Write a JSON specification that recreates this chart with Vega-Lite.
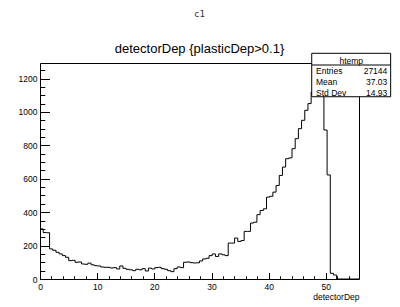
{
  "$schema": "https://vega.github.io/schema/vega-lite/v6.json",
  "width": 319,
  "height": 216,
  "autosize": {"type": "none"},
  "padding": {"left": 40, "top": 63, "right": 41, "bottom": 28},
  "background": "white",
  "title": {
    "text": "c1",
    "subtitle": "detectorDep {plasticDep>0.1}",
    "anchor": "middle",
    "frame": "group",
    "font": "DejaVu Sans Mono",
    "fontSize": 9,
    "fontWeight": "normal",
    "color": "#333333",
    "subtitleFont": "Liberation Sans",
    "subtitleFontSize": 13,
    "subtitleColor": "black",
    "subtitlePadding": 24,
    "offset": -3
  },
  "datasets": {
    "hist": [
      {"x": 0, "count": 300}, {"x": 0.558, "count": 278}, {"x": 1.116, "count": 277}, {"x": 1.674, "count": 180},
      {"x": 2.232, "count": 172}, {"x": 2.79, "count": 160}, {"x": 3.348, "count": 150}, {"x": 3.906, "count": 140},
      {"x": 4.464, "count": 130}, {"x": 5.022, "count": 110}, {"x": 5.58, "count": 112}, {"x": 6.138, "count": 100},
      {"x": 6.696, "count": 102}, {"x": 7.254, "count": 90}, {"x": 7.812, "count": 88}, {"x": 8.37, "count": 95},
      {"x": 8.928, "count": 85}, {"x": 9.486, "count": 80}, {"x": 10.044, "count": 78}, {"x": 10.602, "count": 72},
      {"x": 11.16, "count": 70}, {"x": 11.718, "count": 70}, {"x": 12.276, "count": 66}, {"x": 12.834, "count": 68},
      {"x": 13.392, "count": 60}, {"x": 13.95, "count": 78}, {"x": 14.508, "count": 64}, {"x": 15.066, "count": 58},
      {"x": 15.624, "count": 55}, {"x": 16.182, "count": 50}, {"x": 16.74, "count": 58}, {"x": 17.298, "count": 55},
      {"x": 17.856, "count": 62}, {"x": 18.414, "count": 48}, {"x": 18.972, "count": 65}, {"x": 19.53, "count": 60},
      {"x": 20.088, "count": 68}, {"x": 20.646, "count": 70}, {"x": 21.204, "count": 62}, {"x": 21.762, "count": 58},
      {"x": 22.32, "count": 50}, {"x": 22.878, "count": 44}, {"x": 23.436, "count": 62}, {"x": 23.994, "count": 72},
      {"x": 24.552, "count": 68}, {"x": 25.11, "count": 100}, {"x": 25.668, "count": 102}, {"x": 26.226, "count": 98},
      {"x": 26.784, "count": 96}, {"x": 27.342, "count": 97}, {"x": 27.9, "count": 108}, {"x": 28.458, "count": 120},
      {"x": 29.016, "count": 124}, {"x": 29.574, "count": 140}, {"x": 30.132, "count": 150}, {"x": 30.69, "count": 135},
      {"x": 31.248, "count": 150}, {"x": 31.806, "count": 145}, {"x": 32.364, "count": 140}, {"x": 32.922, "count": 215},
      {"x": 33.48, "count": 215}, {"x": 34.038, "count": 245}, {"x": 34.596, "count": 225}, {"x": 35.154, "count": 230},
      {"x": 35.712, "count": 285}, {"x": 36.27, "count": 285}, {"x": 36.828, "count": 335}, {"x": 37.386, "count": 340},
      {"x": 37.944, "count": 385}, {"x": 38.502, "count": 410}, {"x": 39.06, "count": 420}, {"x": 39.618, "count": 490},
      {"x": 40.176, "count": 495}, {"x": 40.734, "count": 520}, {"x": 41.292, "count": 560}, {"x": 41.85, "count": 620},
      {"x": 42.408, "count": 670}, {"x": 42.966, "count": 720}, {"x": 43.524, "count": 725}, {"x": 44.082, "count": 780},
      {"x": 44.64, "count": 840}, {"x": 45.198, "count": 900}, {"x": 45.756, "count": 950}, {"x": 46.314, "count": 1010},
      {"x": 46.872, "count": 1050}, {"x": 47.43, "count": 1120}, {"x": 47.988, "count": 1160}, {"x": 48.546, "count": 1230},
      {"x": 49.104, "count": 1190}, {"x": 49.662, "count": 892}, {"x": 50.22, "count": 623}, {"x": 50.778, "count": 34},
      {"x": 51.336, "count": 24}, {"x": 51.894, "count": 0}, {"x": 52.452, "count": 0}, {"x": 53.01, "count": 0},
      {"x": 53.568, "count": 0}, {"x": 54.126, "count": 0}, {"x": 54.684, "count": 0}, {"x": 55.242, "count": 0},
      {"x": 55.8, "count": 0}
    ],
    "stats": [
      {"stat": "Entries", "value": "27144"},
      {"stat": "Mean", "value": "37.03"},
      {"stat": "Std Dev", "value": "14.93"}
    ]
  },
  "layer": [
    {
      "data": {"name": "hist"},
      "mark": {"type": "line", "interpolate": "step-after", "color": "black", "strokeWidth": 1},
      "encoding": {
        "x": {
          "field": "x", "type": "quantitative",
          "scale": {"domain": [0, 55.8], "nice": false, "zero": false},
          "axis": {
            "orient": "bottom", "values": [0, 10, 20, 30, 40, 50], "ticks": false, "domain": false, "grid": false,
            "labelFont": "Liberation Sans", "labelFontSize": 8.5, "labelColor": "black", "labelPadding": 3, "labelFlush": false,
            "format": "d",
            "title": "detectorDep", "titleAnchor": "end", "titleFont": "Liberation Sans", "titleFontSize": 8.5,
            "titleFontWeight": "normal", "titleColor": "black", "titlePadding": 2
          }
        },
        "y": {
          "field": "count", "type": "quantitative",
          "scale": {"domain": [0, 1293], "nice": false},
          "axis": {
            "orient": "left", "values": [0, 200, 400, 600, 800, 1000, 1200], "ticks": false, "domain": false, "grid": false,
            "labelFont": "Liberation Sans", "labelFontSize": 8.5, "labelColor": "black", "labelPadding": 3, "labelFlush": false,
            "format": "d",
            "title": null
          }
        }
      }
    },
    {
      "data": {"name": "hist"},
      "mark": {"type": "line", "strokeOpacity": 0},
      "encoding": {
        "x": {
          "field": "x", "type": "quantitative",
          "axis": {
            "orient": "bottom",
            "values": [0, 2, 4, 6, 8, 10, 12, 14, 16, 18, 20, 22, 24, 26, 28, 30, 32, 34, 36, 38, 40, 42, 44, 46, 48, 50, 52, 54],
            "labels": false, "domain": false, "grid": false, "title": null,
            "tickColor": "black", "tickWidth": 1,
            "tickSize": {"condition": {"test": "datum.value % 10 === 0", "value": -6.5}, "value": -3.25}
          }
        },
        "y": {
          "field": "count", "type": "quantitative",
          "axis": {
            "orient": "left",
            "values": [0, 50, 100, 150, 200, 250, 300, 350, 400, 450, 500, 550, 600, 650, 700, 750, 800, 850, 900, 950, 1000, 1050, 1100, 1150, 1200, 1250],
            "labels": false, "domain": false, "grid": false, "title": null,
            "tickColor": "black", "tickWidth": 1,
            "tickSize": {"condition": {"test": "datum.value % 200 === 0", "value": -9.5}, "value": -4.75}
          }
        }
      }
    },
    {
      "data": {"values": [{"name": "htemp"}]},
      "mark": {"type": "rect", "fill": "white", "stroke": "black", "strokeWidth": 1, "clip": false},
      "encoding": {
        "x": {"datum": 47.53, "type": "quantitative", "axis": null},
        "x2": {"datum": 61.34},
        "y": {"datum": 1091, "type": "quantitative", "axis": null},
        "y2": {"datum": 1351}
      }
    },
    {
      "data": {"values": [{"name": "htemp"}]},
      "mark": {"type": "rule", "color": "black", "strokeWidth": 1, "clip": false},
      "encoding": {
        "x": {"datum": 47.53, "type": "quantitative", "axis": null},
        "x2": {"datum": 61.34},
        "y": {"datum": 1281, "type": "quantitative", "axis": null}
      }
    },
    {
      "data": {"values": [{"name": "htemp"}]},
      "mark": {"type": "text", "font": "Liberation Sans", "fontSize": 8.5, "align": "center", "baseline": "middle", "color": "black", "clip": false},
      "encoding": {
        "text": {"field": "name"},
        "x": {"datum": 54.44, "type": "quantitative", "axis": null},
        "y": {"datum": 1307, "type": "quantitative", "axis": null}
      }
    },
    {
      "data": {"name": "stats"},
      "transform": [{"filter": "datum.stat === 'Entries'"}],
      "layer": [
        {"mark": {"type": "text", "font": "Liberation Sans", "fontSize": 8.5, "align": "left", "baseline": "middle", "color": "black", "clip": false},
         "encoding": {"text": {"field": "stat"}, "x": {"datum": 48.28, "type": "quantitative", "axis": null}, "y": {"datum": 1247, "type": "quantitative", "axis": null}}},
        {"mark": {"type": "text", "font": "Liberation Sans", "fontSize": 8.5, "align": "right", "baseline": "middle", "color": "black", "clip": false},
         "encoding": {"text": {"field": "value"}, "x": {"datum": 60.75, "type": "quantitative", "axis": null}, "y": {"datum": 1247, "type": "quantitative", "axis": null}}}
      ]
    },
    {
      "data": {"name": "stats"},
      "transform": [{"filter": "datum.stat === 'Mean'"}],
      "layer": [
        {"mark": {"type": "text", "font": "Liberation Sans", "fontSize": 8.5, "align": "left", "baseline": "middle", "color": "black", "clip": false},
         "encoding": {"text": {"field": "stat"}, "x": {"datum": 48.28, "type": "quantitative", "axis": null}, "y": {"datum": 1181, "type": "quantitative", "axis": null}}},
        {"mark": {"type": "text", "font": "Liberation Sans", "fontSize": 8.5, "align": "right", "baseline": "middle", "color": "black", "clip": false},
         "encoding": {"text": {"field": "value"}, "x": {"datum": 60.75, "type": "quantitative", "axis": null}, "y": {"datum": 1181, "type": "quantitative", "axis": null}}}
      ]
    },
    {
      "data": {"name": "stats"},
      "transform": [{"filter": "datum.stat === 'Std Dev'"}],
      "layer": [
        {"mark": {"type": "text", "font": "Liberation Sans", "fontSize": 8.5, "align": "left", "baseline": "middle", "color": "black", "clip": false},
         "encoding": {"text": {"field": "stat"}, "x": {"datum": 48.28, "type": "quantitative", "axis": null}, "y": {"datum": 1115, "type": "quantitative", "axis": null}}},
        {"mark": {"type": "text", "font": "Liberation Sans", "fontSize": 8.5, "align": "right", "baseline": "middle", "color": "black", "clip": false},
         "encoding": {"text": {"field": "value"}, "x": {"datum": 60.75, "type": "quantitative", "axis": null}, "y": {"datum": 1115, "type": "quantitative", "axis": null}}}
      ]
    }
  ],
  "resolve": {"axis": {"x": "independent", "y": "independent"}},
  "config": {
    "view": {"stroke": "black", "strokeWidth": 1}
  }
}
